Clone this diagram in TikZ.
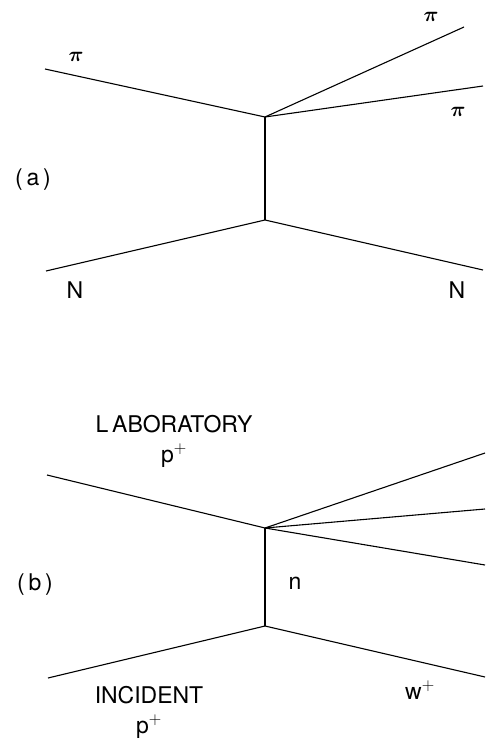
\documentclass[tikz,border=0pt]{standalone}
\usepackage{amsmath,amssymb}
\usepackage{fontspec}
\setmainfont{TeX Gyre Heros}
\usetikzlibrary{positioning,calc}

\begin{document}
\begin{tikzpicture}[
  x=1pt, y=-1pt,
  track/.style={line width=1.1pt, black},
  lbl/.style={font=\fontsize{23}{27}\selectfont, inner sep=0pt},
  pilbl/.style={font=\fontsize{21}{24}\selectfont, inner sep=0pt}
]
  \useasboundingbox (0,0) rectangle (485,743);

  % (a) pion--nucleon
  \coordinate (a-in) at (45,69);
  \coordinate (a-top) at (265,117);
  \coordinate (a-bot) at (265,220);
  \coordinate (a-pi1) at (464,27);
  \coordinate (a-pi2) at (483,86);
  \coordinate (a-nin) at (46,271);
  \coordinate (a-nout) at (483,270);

  \draw[track] (a-in) -- (a-top);
  \draw[track] (a-top) -- (a-pi1);
  \draw[track] (a-top) -- (a-pi2);
  \draw[track] (a-top) -- (a-bot);
  \draw[track] (a-nin) -- (a-bot);
  \draw[track] (a-bot) -- (a-nout);

  \node[pilbl] (a-lpiin) at (76,57) {$\boldsymbol{\pi}$};
  \node[pilbl] (a-lpi1) at (431,17) {$\boldsymbol{\pi}$};
  \node[pilbl] (a-lpi2) at (458,112) {$\boldsymbol{\pi}$};
  \node[lbl] (a-lnin) at (75,290) {N};
  \node[lbl] (a-lnout) at (457,290) {N};
  \node[lbl] (a-tag) at (33,180) {(\,a\,)};

  % (b) proton--proton
  \coordinate (b-in) at (47,475);
  \coordinate (b-top) at (265,528);
  \coordinate (b-bot) at (265,626);
  \coordinate (b-o1) at (485,453);
  \coordinate (b-o2) at (485,509);
  \coordinate (b-o3) at (485,565);
  \coordinate (b-pin) at (48,678);
  \coordinate (b-wout) at (485,677);

  \draw[track] (b-in) -- (b-top);
  \draw[track] (b-top) -- (b-o1);
  \draw[track] (b-top) -- (b-o2);
  \draw[track] (b-top) -- (b-o3);
  \draw[track] (b-top) -- (b-bot);
  \draw[track] (b-pin) -- (b-bot);
  \draw[track] (b-bot) -- (b-wout);

  \node[lbl] (b-lab) at (174,424) {L\,ABORATORY};
  \node[lbl, below=11pt of b-lab] (b-labp) {p$^{+}$};
  \node[lbl] (b-tag) at (35,585) {(\,b\,)};
  \node[lbl] (b-n) at (295,583) {n};
  \node[lbl] (b-inc) at (149,695) {INCIDENT};
  \node[lbl, below=11pt of b-inc] (b-incp) {p$^{+}$};
  \node[lbl] (b-w) at (420,690) {w$^{+}$};
\end{tikzpicture}
\end{document}
